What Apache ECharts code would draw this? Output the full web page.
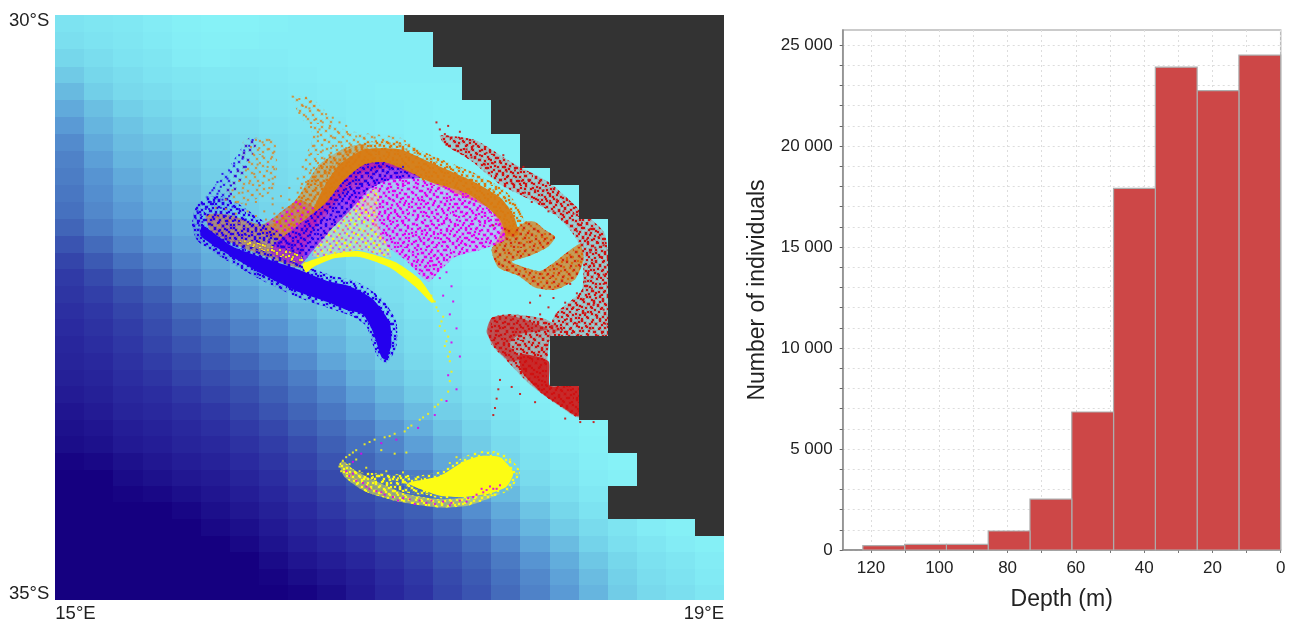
<!DOCTYPE html>
<html><head><meta charset="utf-8">
<script src="https://cdn.jsdelivr.net/npm/echarts@6/dist/echarts.min.js"></script>
<style>html,body{margin:0;padding:0;background:#fff}#c{width:1291px;height:623px;filter:blur(0.35px)}</style>
</head><body><div id="c"></div>
<script>
// ---------- MAP: depth field, read by eye per cell (0 = deep navy, 100 = shelf cyan)
const latEdges=[30,30.145,30.295,30.443,30.585,30.727,30.875,31.02,31.168,31.309,31.458,31.599,31.744,31.887,32.034,32.176,32.319,32.46,32.603,32.745,32.887,33.035,33.176,33.319,33.461,33.603,33.745,33.887,34.024,34.165,34.308,34.45,34.592,34.734,34.868,35];
const depthRows=[
[90,92,93,95,97,98,98,97,96,96,96,96,96,96,96,96,96,96,96,96,96,96,96],
[88,90,92,94,96,97,97,96,96,96,96,96,96,96,96,96,96,96,96,96,96,96,96],
[84,87,90,92,95,96,95,95,96,96,96,96,96,96,96,96,96,96,96,96,96,96,96],
[78,84,87,90,92,93,93,94,95,96,96,96,96,96,96,96,96,96,96,96,96,96,96],
[72,80,85,87,90,92,92,93,94,95,96,97,97,97,97,97,97,97,97,97,97,97,97],
[66,74,80,84,87,90,90,92,93,94,95,96,97,98,98,98,98,98,98,98,98,98,98],
[60,70,76,80,84,87,88,90,92,93,95,96,97,98,98,98,98,98,98,98,98,98,98],
[55,66,73,76,80,84,86,88,90,92,94,95,97,98,98,98,98,98,98,98,98,98,98],
[52,62,70,72,77,82,85,87,89,91,93,95,97,98,98,98,98,98,98,98,98,98,98],
[50,58,66,70,75,80,84,86,88,90,92,94,96,98,98,98,98,98,98,98,98,98,98],
[48,56,63,68,73,78,82,85,87,89,91,94,96,98,98,98,98,98,98,98,98,98,98],
[46,54,60,66,71,76,80,83,86,88,90,93,95,97,98,98,98,98,98,98,98,98,98],
[42,50,56,62,68,73,78,81,84,87,89,92,95,97,98,98,98,98,98,98,98,98,98],
[36,44,52,58,64,70,75,79,82,85,88,91,94,96,98,98,98,98,98,98,98,98,98],
[30,38,46,52,60,67,72,76,80,83,87,90,93,96,98,98,98,98,98,98,98,98,98],
[26,32,40,46,55,62,68,73,78,82,86,89,92,95,97,98,98,98,98,98,98,98,98],
[24,28,34,40,50,56,63,69,75,80,84,88,91,94,96,98,98,98,98,98,98,98,98],
[22,25,30,36,44,50,57,64,71,77,82,86,90,93,96,98,98,98,98,98,98,98,98],
[20,23,27,33,40,45,52,58,66,73,79,84,88,92,95,97,98,98,98,98,98,98,98],
[18,21,25,30,36,41,47,53,60,69,76,82,87,91,94,97,98,98,98,98,98,98,98],
[17,19,23,27,32,37,42,48,55,64,72,79,85,89,93,96,98,98,98,98,98,98,98],
[15,17,21,24,29,33,38,44,50,58,68,76,82,87,91,95,97,98,98,98,98,98,98],
[13,15,19,21,25,29,34,40,46,53,62,71,78,84,89,93,96,98,98,98,98,98,98],
[10,13,17,19,22,25,30,36,42,48,56,65,73,80,86,91,95,97,98,98,98,98,98],
[8,10,14,16,19,22,26,31,38,44,50,59,68,76,83,89,93,96,98,98,98,98,98],
[6,8,12,14,17,19,23,27,33,40,46,53,62,71,79,86,91,95,97,98,98,98,98],
[2,4,8,11,14,16,20,24,29,36,42,48,56,65,74,83,89,93,96,98,99,99,99],
[0,0,5,8,11,13,17,21,26,32,38,44,50,59,68,78,86,91,95,97,99,99,99],
[0,0,2,4,7,10,14,18,23,28,34,39,45,52,62,72,82,88,93,96,98,99,99],
[0,0,0,0,3,7,11,15,20,25,30,35,40,47,56,66,76,84,90,94,97,98,99],
[0,0,0,0,0,4,7,12,17,21,26,31,36,42,50,60,70,79,86,91,95,97,98],
[0,0,0,0,0,0,4,9,14,18,22,27,32,38,45,54,64,73,82,88,92,95,97],
[0,0,0,0,0,0,0,5,10,14,18,23,28,35,41,49,58,67,77,84,89,92,95],
[0,0,0,0,0,0,0,2,6,10,14,20,25,32,38,46,54,63,73,81,87,90,94],
[0,0,0,0,0,0,0,0,2,6,12,18,23,30,36,44,52,60,70,79,85,88,92]];
// first land column on each row (23 = no land)
const landStart=[12,13,13,14,14,15,15,16,16,17,18,18,19,19,19,19,19,19,19,17,17,17,18,18,19,19,20,20,19,19,22,23,23,23,23];

// ---------- MAP: larval clouds, lon °E / lat °S outlines
const blueBand=[[15.88,31.80],[16.06,31.98],[16.27,32.09],[16.46,32.18],[16.64,32.28],[16.76,32.32],[16.90,32.43],[17.00,32.63],[17.01,32.82],[16.98,32.95],[16.95,32.92],[16.90,32.71],[16.84,32.56],[16.74,32.52],[16.64,32.46],[16.46,32.37],[16.27,32.24],[16.06,32.07],[15.87,31.89]];
const blueEdge=[[15.82,31.78],[16.06,31.92],[16.27,32.03],[16.46,32.13],[16.66,32.23],[16.80,32.28],[16.95,32.42],[17.04,32.62],[17.04,32.84],[16.98,32.98],[16.92,32.90],[16.86,32.66],[16.78,32.58],[16.62,32.50],[16.44,32.41],[16.25,32.28],[16.04,32.11],[15.85,31.93]];
const blueHaze=[[15.82,31.77],[15.85,31.62],[15.96,31.54],[16.10,31.62],[16.46,32.01],[16.46,32.19],[16.22,32.07],[16.04,31.96],[15.90,31.89]];
const blueSparse=[[15.90,31.56],[16.01,31.37],[16.16,31.05],[16.21,31.07],[16.10,31.45],[16.01,31.62]];
const purpleStreak=[[16.28,32.01],[16.46,31.79],[16.61,31.62],[16.73,31.41],[16.85,31.28],[16.97,31.26],[17.18,31.39],[17.00,31.41],[16.88,31.49],[16.76,31.68],[16.64,31.85],[16.52,32.05],[16.47,32.13],[16.37,32.11]];
const magentaCloud=[[16.73,31.58],[16.85,31.45],[17.03,31.37],[17.24,31.43],[17.48,31.54],[17.66,31.75],[17.69,31.92],[17.54,32.01],[17.39,32.07],[17.30,32.19],[17.23,32.28],[17.09,32.09],[16.97,31.96],[16.89,31.79]];
const orangeArc=[[16.60,31.49],[16.70,31.28],[16.85,31.15],[17.06,31.15],[17.24,31.26],[17.48,31.41],[17.66,31.56],[17.74,31.71],[17.77,31.88],[17.69,31.89],[17.65,31.75],[17.58,31.64],[17.39,31.52],[17.18,31.39],[17.03,31.31],[16.85,31.34],[16.73,31.49],[16.61,31.69],[16.49,31.85]];
const orangeFringe=[[16.57,31.45],[16.67,31.22],[16.85,31.09],[17.06,31.09],[17.25,31.20],[17.49,31.34],[17.68,31.49],[17.78,31.66],[17.82,31.90],[17.69,31.92],[17.58,31.64],[17.39,31.54],[17.18,31.41],[17.03,31.37],[16.73,31.54],[16.46,31.92]];
const orangeMid=[[16.22,31.85],[16.34,31.75],[16.46,31.54],[16.58,31.28],[16.73,31.14],[16.85,31.11],[16.94,31.32],[16.73,31.54],[16.58,31.79],[16.46,31.96],[16.34,31.92]];
const plumeEast=[[16.42,30.70],[16.55,30.73],[16.73,30.98],[17.06,31.05],[17.24,31.22],[16.85,31.14],[16.70,31.28],[16.58,31.49],[16.46,31.58],[16.49,31.24],[16.54,31.03],[16.46,30.86]];
const plumeWest=[[16.13,31.07],[16.31,31.07],[16.31,31.49],[16.10,31.62],[16.01,31.54],[16.10,31.28]];
const mixedBand=[[15.90,31.71],[16.04,31.71],[16.24,31.79],[16.46,31.58],[16.58,31.71],[16.49,32.01],[16.46,32.16],[16.27,32.07],[16.07,31.96],[15.93,31.85]];
const yellowFringe=[[16.10,31.92],[16.46,32.05],[16.52,32.19],[16.46,32.21],[16.19,32.07]];
const orangeSwirl=[[17.69,31.79],[17.74,31.85],[17.81,31.77],[17.87,31.77],[17.93,31.84],[17.99,31.90],[17.95,31.98],[17.84,32.06],[17.73,32.11],[17.81,32.16],[17.90,32.19],[17.99,32.11],[18.08,32.01],[18.14,31.96],[18.16,32.09],[18.11,32.26],[17.99,32.35],[17.87,32.33],[17.77,32.23],[17.65,32.16],[17.61,32.01],[17.65,31.91]];
const redCore=[[17.78,32.90],[17.95,32.96],[17.96,33.17],[18.13,33.17],[18.13,33.43],[18.02,33.34],[17.90,33.22],[17.79,33.05]];
const redLoop=[[17.58,32.71],[17.61,32.59],[17.72,32.57],[17.84,32.62],[17.95,32.69],[17.78,32.73],[17.71,32.82],[17.79,32.94],[17.72,32.96],[17.63,32.84]];
const redBand=[[17.30,31.03],[17.51,31.07],[17.75,31.28],[17.95,31.43],[18.14,31.67],[18.29,31.88],[18.30,32.75],[17.96,32.75],[17.99,32.56],[18.15,32.35],[18.15,32.01],[18.08,31.84],[17.99,31.71],[17.84,31.58],[17.66,31.45],[17.48,31.24],[17.33,31.11]];
const redLower=[[17.59,32.71],[17.61,32.59],[17.72,32.56],[17.93,32.60],[18.02,32.69],[17.96,32.75],[17.95,33.16],[18.13,33.17],[18.13,33.44],[18.02,33.35],[17.84,33.16],[17.69,32.94],[17.61,32.82]];
const yellowBlob=[[17.11,34.00],[17.30,33.94],[17.44,33.82],[17.54,33.77],[17.66,33.78],[17.74,33.91],[17.70,34.03],[17.60,34.09],[17.44,34.12],[17.30,34.11],[17.18,34.05]];
const yellowBlobEdge=[[17.05,33.98],[17.30,33.90],[17.44,33.78],[17.54,33.73],[17.68,33.74],[17.78,33.90],[17.72,34.06],[17.60,34.12],[17.30,34.13],[17.12,34.06]];
const yellowInner=[[16.78,33.91],[16.94,33.92],[17.18,33.95],[17.24,34.10],[17.06,34.07],[16.88,33.98]];
const yellowRim=[[16.70,33.84],[16.73,33.95],[16.85,34.07],[17.06,34.16],[17.30,34.21],[17.48,34.19],[17.66,34.09],[17.48,34.12],[17.30,34.14],[17.09,34.09],[16.91,33.98],[16.78,33.88],[16.72,33.81]];
const yellowArc=[[16.48,32.13],[16.64,32.05],[16.82,32.02],[17.03,32.11],[17.18,32.26],[17.27,32.45],[17.25,32.46],[17.15,32.32],[17.00,32.16],[16.82,32.07],[16.67,32.08],[16.55,32.15],[16.50,32.20]];
const yellowHaze=[[16.93,31.48],[16.76,31.67],[16.58,31.92],[16.54,32.07],[16.82,32.01],[17.01,32.07],[16.93,31.79]];

// ---------- MAP: individual particles, placed by eye
const orangePts=[[16.42,30.70],[16.46,30.72],[16.50,30.71],[16.53,30.74],[16.48,30.78],[16.52,30.80],[16.46,30.84],[16.50,30.87],[16.55,30.78],[16.58,30.82],[16.62,30.85],[16.66,30.88],[16.70,30.92],[16.74,30.95],[16.55,30.90],[16.60,30.92],[16.53,30.96],[16.58,30.98],[16.64,30.97],[16.69,31.00],[16.75,31.02],[16.80,31.04],[16.85,31.06],[16.91,31.05],[16.96,31.07],[16.57,31.04],[16.61,31.07],[16.66,31.05],[16.71,31.09],[16.76,31.10],[16.82,31.11],[16.88,31.12],[16.94,31.12],[17.00,31.10],[17.06,31.12],[16.55,31.12],[16.60,31.16],[16.65,31.14],[16.70,31.18],[16.75,31.17],[16.52,31.20],[16.56,31.25],[16.61,31.23],[16.66,31.27],[16.70,31.24],[16.48,31.30],[16.53,31.33],[16.58,31.31],[16.62,31.35],[16.45,31.40],[16.50,31.43],[16.55,31.41],[16.60,31.46],[16.40,31.48],[16.45,31.52],[16.50,31.50],[16.56,31.54],[16.35,31.55],[16.40,31.58],[16.46,31.60],[16.52,31.58],[16.30,31.62],[16.36,31.65],[16.42,31.64],[16.48,31.68],[16.25,31.68],[16.31,31.70],[16.38,31.72],[16.20,31.07],[16.24,31.09],[16.28,31.07],[16.17,31.13],[16.22,31.14],[16.27,31.15],[16.31,31.17],[16.19,31.20],[16.24,31.21],[16.29,31.23],[16.16,31.26],[16.21,31.28],[16.27,31.30],[16.31,31.32],[16.14,31.33],[16.19,31.36],[16.25,31.38],[16.30,31.40],[16.10,31.42],[16.16,31.44],[16.22,31.46],[16.28,31.48],[16.06,31.50],[16.12,31.52],[16.18,31.54],[16.24,31.55],[16.30,31.57],[16.02,31.58],[16.08,31.60],[16.14,31.62],[16.20,31.60],[15.96,31.65],[16.02,31.66],[16.08,31.70],[15.92,31.72],[15.97,31.73],[16.04,31.76],[15.98,31.80],[16.10,31.78],[16.15,31.68],[16.20,31.72],[16.26,31.75],[16.56,31.38],[16.60,31.30],[16.64,31.20],[16.68,31.12],[16.74,31.14],[16.92,31.14],[17.10,31.15],[17.15,31.18],[17.28,31.26],[17.40,31.36],[17.52,31.42],[17.62,31.50]];
const bluePts=[[16.18,31.07],[16.16,31.12],[16.13,31.16],[16.10,31.20],[16.12,31.23],[16.07,31.27],[16.04,31.33],[16.09,31.32],[16.00,31.36],[16.03,31.40],[15.97,31.43],[15.99,31.47],[15.94,31.50],[15.97,31.53],[15.91,31.56],[15.93,31.60],[15.88,31.62],[15.90,31.66],[15.85,31.68],[15.87,31.71],[15.84,31.74],[15.88,31.77],[15.92,31.66],[15.95,31.60],[15.96,31.70],[16.00,31.58],[15.86,31.80],[15.90,31.84],[16.05,31.46],[16.08,31.38],[16.14,31.30],[16.04,31.55],[15.99,31.65],[16.06,31.64],[16.02,31.72],[16.10,31.66],[16.14,31.75],[16.20,31.85],[16.28,31.92],[16.35,31.98],[16.22,31.94],[16.14,31.88],[17.00,31.32],[16.95,31.30],[17.08,31.30],[16.90,31.36]];
const magentaPts=[[17.26,32.14],[17.34,32.20],[17.30,32.25],[17.37,32.32],[17.32,32.40],[17.38,32.45],[17.36,32.56],[17.40,32.68],[17.37,32.80],[17.42,32.92],[17.35,33.08],[17.40,33.20],[17.34,33.30],[17.27,33.42],[17.17,33.53],[17.04,33.63],[16.95,33.66],[16.83,33.75],[16.78,33.82],[16.74,33.90],[16.80,33.98],[16.88,34.05],[16.97,34.10],[17.08,34.13],[17.18,34.15],[17.27,34.18],[17.37,34.17],[17.47,34.13],[17.56,34.08],[17.62,34.05],[17.66,34.02],[17.52,34.10],[17.58,34.06],[17.42,34.15],[17.32,34.16],[17.22,34.17],[17.12,34.14],[17.02,34.12],[16.92,34.07],[16.84,34.00],[16.76,33.94],[17.60,34.03],[17.64,34.05],[17.55,34.05],[17.50,34.12],[17.46,34.16],[17.36,34.19],[17.25,34.15],[17.15,34.18],[17.05,34.15],[16.95,34.08],[16.86,34.03],[16.78,33.92]];
const redPts=[[17.33,31.02],[17.37,31.05],[17.34,31.11],[17.42,31.06],[17.46,31.15],[17.40,31.12],[17.50,31.12],[17.54,31.20],[17.49,31.22],[17.58,31.18],[17.62,31.27],[17.57,31.28],[17.66,31.25],[17.70,31.34],[17.64,31.36],[17.75,31.33],[17.79,31.42],[17.73,31.44],[17.83,31.41],[17.87,31.50],[17.81,31.52],[17.92,31.50],[17.96,31.59],[17.90,31.60],[18.00,31.58],[18.04,31.68],[17.98,31.68],[18.10,31.70],[18.05,31.77],[18.15,31.78],[18.12,31.85],[18.20,31.83],[18.18,31.92],[18.25,31.90],[18.23,31.99],[18.28,31.97],[18.20,32.03],[18.27,32.07],[18.22,32.13],[18.29,32.16],[18.19,32.19],[18.25,32.24],[18.28,32.30],[18.17,32.28],[18.21,32.34],[18.26,32.40],[18.12,32.38],[18.16,32.43],[18.22,32.48],[18.28,32.52],[18.05,32.46],[18.10,32.50],[18.17,32.55],[18.24,32.59],[18.29,32.64],[18.00,32.56],[18.06,32.60],[18.12,32.64],[18.20,32.68],[18.27,32.72],[17.97,32.66],[18.03,32.69],[18.09,32.72],[17.95,32.50],[17.90,32.56],[18.28,32.22],[18.14,32.15],[18.24,31.95],[17.77,31.50],[17.85,31.60],[17.95,31.68],[17.42,31.00],[17.30,30.98],[17.28,30.92],[17.35,30.95],[17.62,31.80],[17.90,32.40],[17.84,32.46],[17.98,32.42],[18.08,32.30],[17.68,31.20],[17.80,31.30],[17.66,33.12],[17.65,33.20],[17.64,33.28],[17.63,33.36],[17.62,33.42],[17.73,33.18],[17.78,33.24],[17.87,33.31],[18.05,33.45],[18.14,33.48],[18.22,33.48]];
const yellowPts=[[17.27,32.45],[17.29,32.53],[17.31,32.62],[17.33,32.70],[17.34,32.79],[17.36,32.88],[17.36,32.96],[17.37,33.05],[17.36,33.13],[17.35,33.22],[17.31,33.29],[17.27,33.35],[17.23,33.41],[17.18,33.46],[17.13,33.51],[17.09,33.56],[17.03,33.58],[16.97,33.61],[16.91,33.63],[16.85,33.67],[16.80,33.72],[16.76,33.76],[16.72,33.81],[16.70,33.86],[17.25,32.40],[17.28,32.50],[17.32,32.58],[17.30,32.66],[17.35,32.75],[17.33,32.83],[17.35,32.92],[17.29,33.33],[17.20,33.44],[17.11,33.53],[17.00,33.60],[16.88,33.65],[16.78,33.74],[16.95,33.72],[17.03,33.75],[17.10,33.74],[16.90,33.95],[16.95,33.93],[17.00,33.97],[17.05,33.96],[17.10,34.00],[16.82,33.90],[16.76,33.84],[17.40,33.78],[17.36,33.83],[17.72,33.80],[17.76,33.92],[17.62,33.74],[16.74,33.78],[16.71,33.90],[16.80,33.80],[16.86,33.87],[16.98,33.90],[17.08,33.91]];

// stipple tiles for the particle texture (dot positions inside one tile)
const tileA=[[3,1],[6,2],[12,0],[17,3],[21,1],[28,2],[33,0],[38,3],[1,6],[9,5],[14,7],[19,6],[25,5],[30,7],[36,8],[5,9],[11,11],[16,10],[23,9],[27,11],[33,12],[39,11],[2,13],[8,14],[13,15],[20,13],[24,15],[30,16],[36,15],[5,18],[10,18],[17,17],[22,19],[28,20],[34,19],[39,18],[1,21],[7,22],[13,21],[18,23],[25,24],[31,23],[37,24],[4,25],[10,26],[15,27],[21,27],[27,28],[33,27],[40,27],[2,29],[7,31],[12,30],[18,31],[24,32],[30,31],[36,32],[5,34],[14,34],[20,35],[27,35],[33,35],[39,34]];
const tileB=[[2,2],[10,1],[15,4],[24,3],[6,6],[19,8],[27,7],[1,10],[11,11],[15,13],[23,12],[5,15],[9,17],[19,17],[27,16],[2,20],[13,21],[22,21],[7,24],[17,25],[25,25],[1,27],[11,28],[20,29],[27,30]];

// ---------- HISTOGRAM
const binEdges=[0,12.24,24.48,36.72,48.96,61.2,73.44,85.68,97.92,110.16,122.4];
const counts=[24500,22740,23900,17900,6830,2520,940,280,280,220];
const depthTicks=[0,10,20,30,40,50,60,70,80,90,100,110,120];
const depthLabels=[0,20,40,60,80,100,120];
const countTicks=[0,1000,2000,3000,4000,5000,6000,7000,8000,9000,10000,11000,12000,13000,14000,15000,16000,17000,18000,19000,20000,21000,22000,23000,24000,25000];
const countLabels=[0,5000,10000,15000,20000,25000];

// ---------- helpers
const ramp=['#150080','#2a2a9f','#3e5fb5','#5a9ad5','#72cfe8','#88f6f9'];
const lonOf=c=>15+c*4/23;
const oceanData=[];
depthRows.forEach((r,i)=>r.forEach((v,c)=>oceanData.push([lonOf(c),lonOf(c+1),latEdges[i],latEdges[i+1],v])));
const landData=[];
landStart.forEach((c,i)=>{if(c<23)landData.push([lonOf(c),19,latEdges[i],latEdges[i+1]]);});
const cell=(fill)=>(p,api)=>{
  const a=api.coord([api.value(0),api.value(2)]),b=api.coord([api.value(1),api.value(3)]);
  const x=Math.round(a[0]),y=Math.round(a[1]),x2=Math.round(b[0]),y2=Math.round(b[1]);
  return {type:'rect',shape:{x:x,y:y,width:x2-x,height:y2-y},style:{fill:fill(api)}};
};
const stipple=(color,tile,w,h)=>{
  const cv=document.createElement('canvas');cv.width=w;cv.height=h;
  const g=cv.getContext('2d');g.fillStyle=color;
  g.globalAlpha=.16;tile.forEach(d=>g.fillRect(d[0]-1,d[1]-1,4,4));
  g.globalAlpha=1;tile.forEach(d=>g.fillRect(d[0],d[1],2,2));
  return {type:'pattern',image:cv,repeat:'repeat'};
};
const A=c=>stipple(c,tileA,41,37), B=c=>stipple(c,tileB,29,31);
const cloud=(pts,fill,opacity)=>({type:'custom',xAxisIndex:0,yAxisIndex:0,silent:true,clip:true,
  data:[pts[0]],encode:{x:0,y:1},
  renderItem:(p,api)=>({type:'polygon',shape:{points:pts.map(q=>api.coord(q)),smooth:.2},style:{fill,opacity:opacity==null?1:opacity}})});
const dots=(pts,color,opacity)=>({type:'scatter',xAxisIndex:0,yAxisIndex:0,silent:true,symbol:'rect',symbolSize:2,
  data:pts,itemStyle:{color,opacity:opacity||.85}});

const RED='#cf1212',ORG='#d97a12',MAG='#e000f0',BLU='#2400ee',YEL='#fcfc14';
const font='"Liberation Sans",Arial,sans-serif';
const chart=echarts.init(document.getElementById('c'),null,{renderer:'canvas'});
chart.setOption({
  animation:false,backgroundColor:'#fff',
  grid:[{left:55.3,top:14.7,width:668.7,height:587.4,show:false},
        {left:842.7,top:30,width:438,height:520,show:true,borderColor:'#bbb',borderWidth:1.5,backgroundColor:'#fff'}],
  xAxis:[
   {gridIndex:0,type:'value',min:15,max:19,axisLine:{show:false},axisTick:{show:false},splitLine:{show:false},
    axisLabel:{customValues:[15,19],formatter:v=>v+'°E',alignMinLabel:'left',alignMaxLabel:'right',margin:4,fontSize:18.5,color:'#222',fontFamily:font}},
   {gridIndex:1,type:'value',inverse:true,min:0,max:128.3,name:'Depth (m)',nameLocation:'middle',nameGap:38,
    nameTextStyle:{fontSize:23,color:'#222',fontFamily:font},
    axisLine:{onZero:false,lineStyle:{color:'#888',width:1.5}},axisTick:{customValues:depthTicks,length:3,lineStyle:{color:'#777'}},
    splitLine:{show:true,lineStyle:{color:'#ddd',type:[2,3],width:1}},
    axisLabel:{customValues:depthLabels,margin:10,fontSize:17,color:'#222',fontFamily:font}}],
  yAxis:[
   {gridIndex:0,type:'value',inverse:true,min:30,max:35,interval:5,axisLine:{show:false},axisTick:{show:false},splitLine:{show:false},
    axisLabel:{customValues:[30,35],formatter:v=>v+'°S',verticalAlignMinLabel:'top',verticalAlignMaxLabel:'bottom',lineHeight:12,margin:6,fontSize:18.5,color:'#222',fontFamily:font}},
   {gridIndex:1,type:'value',min:0,max:25740,position:'left',name:'Number of individuals',nameLocation:'middle',nameGap:74,
    nameTextStyle:{fontSize:23,color:'#222',fontFamily:font},
    axisLine:{onZero:false,show:true,lineStyle:{color:'#888',width:1.5}},axisTick:{show:true,customValues:countTicks,length:3,lineStyle:{color:'#666'}},
    splitLine:{show:true,lineStyle:{color:'#ddd',type:[2,3],width:1}},
    axisLabel:{customValues:countLabels,margin:10,fontSize:17,color:'#222',fontFamily:font,
      formatter:v=>v>=1000?String(v).replace(/(\d{3})$/,' $1'):String(v)}}],
  series:[
   {type:'custom',xAxisIndex:0,yAxisIndex:0,silent:true,data:oceanData,encode:{x:[0,1],y:[2,3]},
    renderItem:cell(api=>echarts.color.lerp(api.value(4)/100,ramp))},
   // red
   cloud(redBand,'#c87070',.28),cloud(redBand,A(RED)),cloud(redBand,B(RED)),dots(redPts,RED,.9),
   cloud(redLower,'#c85050',.38),cloud(redLower,A(RED)),cloud(redLower,B(RED)),cloud(redLoop,RED,.6),cloud(redCore,RED,.85),
   // land covers anything spilling across the coast
   {type:'custom',xAxisIndex:0,yAxisIndex:0,silent:true,data:landData,encode:{x:[0,1],y:[2,3]},
    renderItem:cell(()=>'#333333')},
   // orange
   cloud(plumeEast,B('#d88a30'),.85),cloud(plumeWest,B('#d88a30'),.8),dots(orangePts,'#d98320',.8),
   cloud(orangeMid,'#d98a30',.5),cloud(orangeMid,A(ORG)),cloud(orangeMid,B(ORG)),
   cloud(orangeFringe,A(ORG)),cloud(orangeFringe,B(ORG)),
   cloud(orangeArc,ORG,.95),cloud(orangeSwirl,'#dc7c18',.72),cloud(orangeSwirl,A('#d86a10')),cloud(orangeSwirl,B('#d22a10')),
   // magenta
   cloud(magentaCloud,'#e090f5',.42),cloud(magentaCloud,A(MAG)),cloud(magentaCloud,B(MAG)),
   // mixed lower-left band
   cloud(mixedBand,'#cc6a48',.6),cloud(mixedBand,A(ORG)),cloud(mixedBand,B(MAG)),
   // yellow haze over magenta
   cloud(yellowHaze,'#e8e0a0',.4),cloud(yellowHaze,B(YEL)),cloud(yellowHaze,A(MAG),.5),
   // purple-blue streak
   cloud(purpleStreak,'#b000ee',.68),cloud(purpleStreak,A(BLU)),cloud(purpleStreak,B(BLU)),
   // blue
   cloud(blueHaze,A(BLU)),cloud(blueHaze,B(BLU)),cloud(blueSparse,B(BLU),.8),dots(bluePts,BLU,.85),
   cloud(yellowFringe,B(YEL)),cloud(yellowFringe,A('#e8c820')),
   cloud(blueEdge,A(BLU)),cloud(blueEdge,B(BLU)),cloud(blueBand,BLU,1),
   // yellow
   cloud(yellowArc,YEL,1),cloud(yellowRim,'#d8dc60',.55),cloud(yellowRim,A(YEL)),cloud(yellowRim,B(YEL)),
   cloud(yellowInner,A(YEL)),cloud(yellowInner,B(YEL)),
   cloud(yellowBlobEdge,A(YEL)),cloud(yellowBlob,YEL,1),dots(yellowPts,'#f0ee20',.95),dots(magentaPts,MAG,.9),
   {type:'custom',xAxisIndex:1,yAxisIndex:1,silent:true,data:counts.map((v,i)=>[binEdges[i],binEdges[i+1],v]),encode:{x:[0,1],y:2},
    renderItem:(p,api)=>{
      const a=api.coord([api.value(1),api.value(2)]),b=api.coord([api.value(0),0]);
      return {type:'rect',shape:{x:a[0],y:a[1],width:b[0]-a[0],height:b[1]-a[1]},
        style:{fill:'#cd4747',stroke:'#adadad',lineWidth:1.2}};
    }}
  ]
});
</script></body></html>
